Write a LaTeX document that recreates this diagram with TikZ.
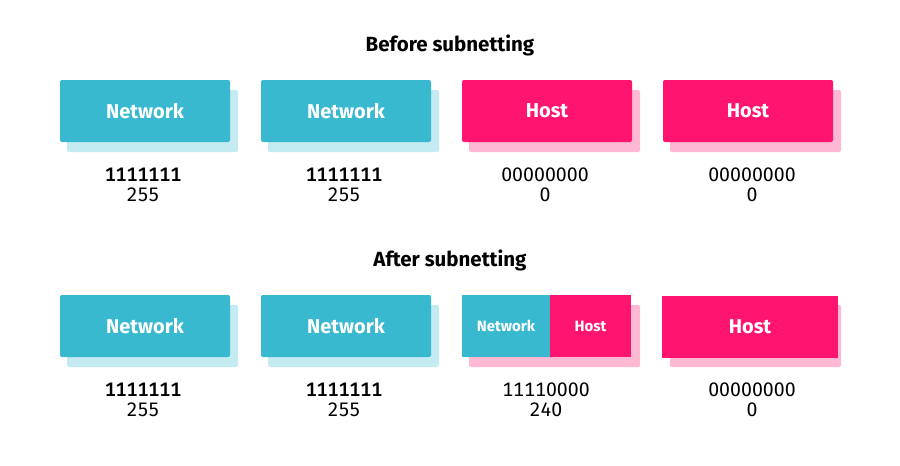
\documentclass[tikz,border=0pt]{standalone}
\usepackage{fontspec}
\setmainfont{Fira Sans}[Numbers=Monospaced]
\newfontfamily\medfont{Fira Sans Medium}[Numbers=Monospaced]
\definecolor{netc}{HTML}{38B9D0}
\definecolor{netl}{HTML}{C4EAF2}
\definecolor{hostc}{HTML}{FF1470}
\definecolor{hostl}{HTML}{FFB8D4}
\tikzset{
  part/.style={minimum width=170pt,minimum height=62pt,inner sep=0pt,rounded corners=2pt,text=white,font=\bfseries\fontsize{20}{22}\selectfont},
  netbox/.style={part,fill=netc},
  hostbox/.style={part,fill=hostc},
  small/.style={font=\bfseries\fontsize{15}{17}\selectfont,sharp corners},
  dec/.style={font=\fontsize{19.5}{21}\selectfont,inner sep=0pt},
  bits/.style={dec,font=\medfont\fontsize{19.5}{21}\selectfont},
  title/.style={font=\bfseries\fontsize{20.5}{22}\selectfont,inner sep=0pt}
}
\begin{document}
\begin{tikzpicture}[x=1pt,y=-1pt]
\useasboundingbox[fill=white] (0,0) rectangle (900,466);
% titles
\node[title] (t1) at (450,45) {Before subnetting};
\node[title] (t2) at (450,260) {After subnetting};
% shadows
\foreach \xs/\ys/\c in {67/90/netl,268/90/netl,469/90/hostl,670/90/hostl,67/305/netl,268/305/netl,469/305/hostl,670/305/hostl}
  \fill[\c,rounded corners=2pt] (\xs,\ys) rectangle ++(171,62);
% before
\node[netbox] (a1) at (145,111) {Network};
\node[netbox] (a2) at (346,111) {Network};
\node[hostbox] (a3) at (547,111) {Host};
\node[hostbox] (a4) at (748,111) {Host};
% after
\node[netbox] (b1) at (145,326) {Network};
\node[netbox] (b2) at (346,326) {Network};
\node[hostbox,minimum width=81pt,small] (b3h) at (590.5,326) {Host};
\node[netbox,minimum width=88pt,small] (b3n) at (506,326) {Network};
\node[hostbox,minimum width=176pt,sharp corners] (b4) at (750,327) {Host};
% numbers
\foreach \n/\xc/\yc/\s/\bb/\dd in {1/143/175/bits/1111111/255,2/344/175/bits/1111111/255,3/545/175/dec/00000000/0,4/752/175/dec/00000000/0,5/143/390/bits/1111111/255,6/344/390/bits/1111111/255,7/546/390/dec/11110000/240,8/752/390/dec/00000000/0}{
  \node[\s] (n\n) at (\xc,\yc) {\bb};
  \node[dec] (d\n) at (\xc,\yc+19.5) {\dd};
}
\end{tikzpicture}
\end{document}
